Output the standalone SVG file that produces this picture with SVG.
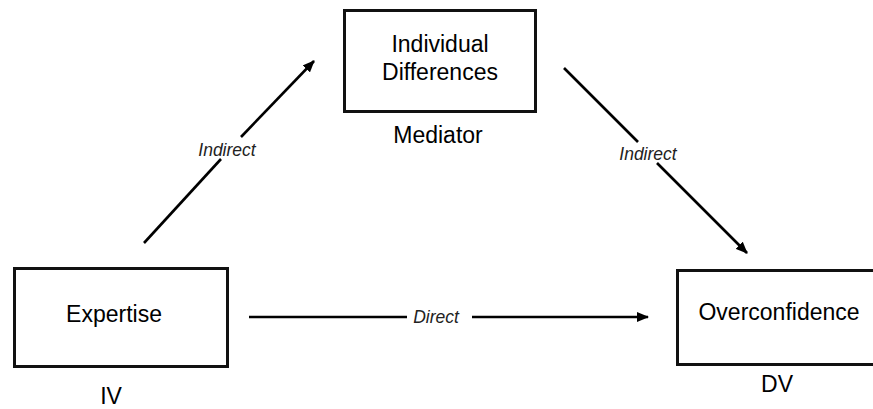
<svg xmlns="http://www.w3.org/2000/svg" width="873" height="409" viewBox="0 0 873 409">
  <style>
    .box { fill: #fff; stroke: #111; stroke-width: 3; }
    .lbl { font-family: "Liberation Sans", Arial, sans-serif; font-size: 23px; fill: #000; text-anchor: middle; }
    .edge { stroke: #000; stroke-width: 2.6; fill: none; }
    .elbl { font-family: "Liberation Sans", Arial, sans-serif; font-size: 17.5px; font-style: italic; fill: #222; text-anchor: middle; }
  </style>
  <defs>
    <marker id="head" viewBox="0 0 12 10" refX="11" refY="5" markerWidth="12" markerHeight="10" markerUnits="userSpaceOnUse" orient="auto">
      <path d="M0,0 L12,5 L0,10 Z" fill="#000"/>
    </marker>
  </defs>
  <rect width="873" height="409" fill="#fff"/>

  <g id="mediator">
    <rect class="box" x="344.5" y="10.5" width="191" height="101"/>
    <text class="lbl" x="440" y="52">Individual</text>
    <text class="lbl" x="440" y="80">Differences</text>
    <text class="lbl" x="438" y="143">Mediator</text>
  </g>

  <g id="expertise">
    <rect class="box" x="14.5" y="268.5" width="213" height="98"/>
    <text class="lbl" x="114" y="322">Expertise</text>
    <text class="lbl" x="111" y="404">IV</text>
  </g>

  <g id="overconfidence">
    <rect class="box" x="677.5" y="270.5" width="200" height="94"/>
    <text class="lbl" x="779" y="320">Overconfidence</text>
    <text class="lbl" x="777" y="392">DV</text>
  </g>

  <g id="connectors">
    <line class="edge" x1="144" y1="243" x2="221" y2="159"/>
    <line class="edge" x1="241" y1="137" x2="314" y2="61" marker-end="url(#head)"/>
    <text class="elbl" x="227" y="156">Indirect</text>

    <line class="edge" x1="564" y1="68" x2="638" y2="142"/>
    <line class="edge" x1="657" y1="163" x2="747" y2="253" marker-end="url(#head)"/>
    <text class="elbl" x="648" y="160">Indirect</text>

    <line class="edge" x1="249" y1="317" x2="407" y2="317"/>
    <line class="edge" x1="472" y1="317" x2="648" y2="317" marker-end="url(#head)"/>
    <text class="elbl" x="436" y="323">Direct</text>
  </g>
</svg>
